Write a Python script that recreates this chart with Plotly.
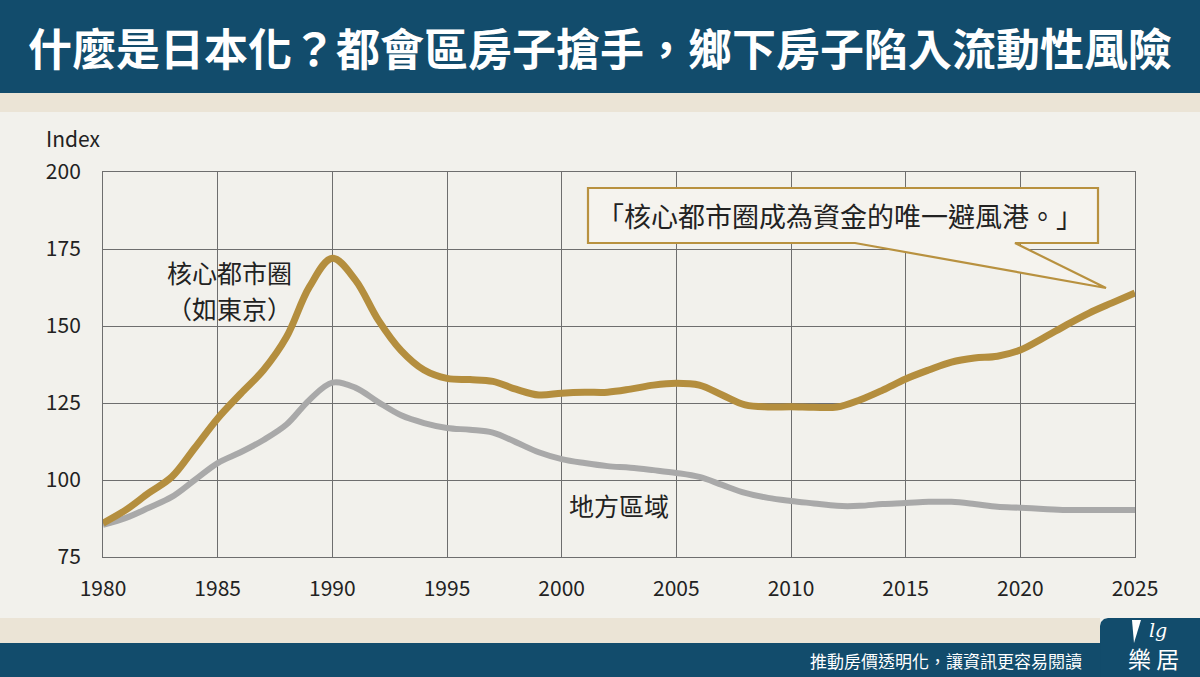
import plotly.graph_objects as go

years = list(range(1980, 2026))
core_index = [86, 90.3, 95.8, 101, 110.4, 120, 128, 135.7, 146.4, 162.7,
              172, 165, 152, 142, 135.7, 133, 132.6, 132, 129.5, 127.6,
              128.2, 128.5, 128.5, 129.5, 130.8, 131.4, 130.8, 127.6, 124.4, 123.7,
              123.8, 123.6, 123.7, 126, 129.2, 132.8, 135.7, 138.3, 139.6, 140.2,
              142.2, 146.1, 150.3, 154.2, 157.5, 160.7]
regional_index = [85.4, 87.7, 91, 94.5, 100, 105.5, 109, 113, 118, 126,
                  131.6, 130, 125.3, 121, 118.5, 116.9, 116.3, 115.4, 112.3, 109,
                  106.8, 105.5, 104.5, 104, 103.2, 102.3, 101, 98.4, 95.8, 94.2,
                  93.2, 92.4, 91.6, 91.6, 92.2, 92.5, 92.9, 92.9, 92.2, 91.3,
                  91, 90.6, 90.3, 90.3, 90.3, 90.3]
x_ticks = [1980, 1985, 1990, 1995, 2000, 2005, 2010, 2015, 2020, 2025]
y_ticks = [75, 100, 125, 150, 175, 200]

title_text = "什麼是日本化？都會區房子搶手，鄉下房子陷入流動性風險"
core_label = "核心都市圈"
core_label2 = "（如東京）"
regional_label = "地方區域"
callout_text = "「核心都市圈成為資金的唯一避風港。」"
footer_text = "推動房價透明化，讓資訊更容易閱讀"
logo_text = "樂 居"

W, H = 1200, 677
CJK = "Noto Sans CJK TC"
NAVY = "#124c6c"
BEIGE = "#ebe4d6"
PANEL = "#f2f1ec"
GOLD = "#b48e3e"
GRAY = "#a9a9a9"
GRID = "#6e6e6e"
INK = "#222222"


def px(x):
    return x / W


def py(y):
    return 1 - y / H


def rect(x0, y0, x1, y1, color):
    return dict(type="rect", xref="paper", yref="paper", x0=px(x0), x1=px(x1),
                y0=py(y1), y1=py(y0), fillcolor=color, line=dict(width=0), layer="below")


def path(points, fill, line_color=None, line_width=0, layer="below"):
    d = "M " + " L ".join(f"{px(a):.5f},{py(b):.5f}" for a, b in points) + " Z"
    return dict(type="path", xref="paper", yref="paper", path=d, fillcolor=fill,
                line=dict(color=line_color or fill, width=line_width), layer=layer)


fig = go.Figure()
fig.add_trace(go.Scatter(x=years, y=regional_index, mode="lines",
                         line=dict(color=GRAY, width=6, shape="spline", smoothing=1),
                         hoverinfo="skip", showlegend=False))
fig.add_trace(go.Scatter(x=years, y=core_index, mode="lines",
                         line=dict(color=GOLD, width=7, shape="spline", smoothing=1),
                         hoverinfo="skip", showlegend=False))

shapes = [
    rect(0, 0, W, 93, NAVY),
    rect(0, 93, W, 112, BEIGE),
    rect(0, 618, 1100, 643, BEIGE),
    rect(0, 643, W, H, NAVY),
    path([(1100, 677), (1100, 626), (1101, 622), (1104, 619), (1108, 618), (W, 618), (W, 677)], NAVY),
    # callout
    path([(588, 188), (1098, 188), (1098, 243), (1015, 243), (1106, 288), (855, 243), (588, 243)],
         "#f5f3ee", "#b8913f", 2.2, layer="above"),
    # logo wedge
    path([(1132, 620), (1141, 620), (1134, 643)], "white"),
]

annotations = [
    dict(text=title_text, x=px(W / 2), y=py(47), xref="paper", yref="paper", showarrow=False,
         font=dict(family=CJK, size=44, color="white", weight=700), xanchor="center", yanchor="middle"),
    dict(text="Index", x=px(44), y=py(138), xref="paper", yref="paper", showarrow=False,
         font=dict(family=CJK, size=21, color=INK), xanchor="left", yanchor="middle"),
    dict(text=core_label, x=px(229), y=py(272), xref="paper", yref="paper", showarrow=False,
         font=dict(family=CJK, size=25, color=INK), xanchor="center", yanchor="middle"),
    dict(text=core_label2, x=px(229), y=py(308), xref="paper", yref="paper", showarrow=False,
         font=dict(family=CJK, size=25, color=INK), xanchor="center", yanchor="middle"),
    dict(text=regional_label, x=px(619), y=py(505), xref="paper", yref="paper", showarrow=False,
         font=dict(family=CJK, size=25, color=INK), xanchor="center", yanchor="middle"),
    dict(text=callout_text, x=px(840), y=py(215), xref="paper", yref="paper", showarrow=False,
         font=dict(family=CJK, size=27, color=INK), xanchor="center", yanchor="middle"),
    dict(text=footer_text, x=px(1084), y=py(660), xref="paper", yref="paper", showarrow=False,
         font=dict(family=CJK, size=17, color="white"), xanchor="right", yanchor="middle"),
    dict(text=logo_text, x=px(1153), y=py(658), xref="paper", yref="paper", showarrow=False,
         font=dict(family=CJK, size=23, color="white"), xanchor="center", yanchor="middle"),
    dict(text="<i>lg</i>", x=px(1158), y=py(630), xref="paper", yref="paper", showarrow=False,
         font=dict(family="DejaVu Serif", size=19, color="white"), xanchor="center", yanchor="middle"),
]

fig.update_layout(
    template="none",
    width=W, height=H,
    margin=dict(l=0, r=0, t=0, b=0, pad=0),
    paper_bgcolor=PANEL, plot_bgcolor=PANEL,
    shapes=shapes, annotations=annotations,
    xaxis=dict(domain=[px(103), px(1135)], range=[1980, 2025], tickvals=x_ticks,
               showgrid=True, gridcolor=GRID, gridwidth=1, showline=True, linecolor=GRID,
               linewidth=1, mirror=True, zeroline=False, ticks="", ticklabelstandoff=13,
               automargin=False,
               tickfont=dict(family=CJK, size=21, color=INK), fixedrange=True),
    yaxis=dict(domain=[py(557), py(172)], range=[75, 200], tickvals=y_ticks,
               showgrid=True, gridcolor=GRID, gridwidth=1, showline=True, linecolor=GRID,
               linewidth=1, mirror=True, zeroline=False, ticks="", ticklabelstandoff=17,
               automargin=False,
               tickfont=dict(family=CJK, size=21, color=INK), fixedrange=True),
)

fig.write_html("out.html", config={"displayModeBar": False},
               post_script="document.body.style.margin='0';document.body.style.overflow='hidden';")
